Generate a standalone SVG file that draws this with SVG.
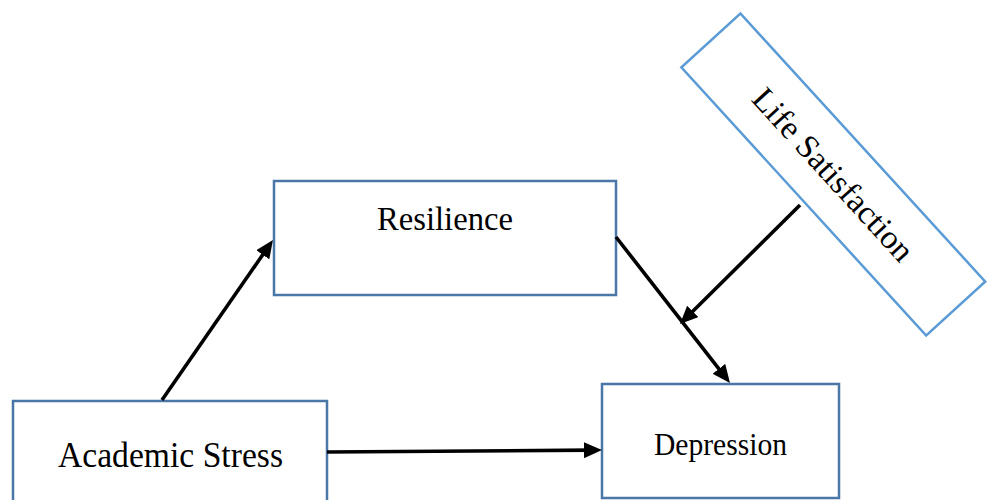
<svg xmlns="http://www.w3.org/2000/svg" width="987" height="500" viewBox="0 0 987 500">
<defs>
<style>
.box{fill:#fff;stroke:#4A76A8;stroke-width:2.5}
.box2{fill:#fff;stroke:#5B9BD5;stroke-width:2.5}
.lbl{font-family:"Liberation Serif","Times New Roman",serif;fill:#000;text-anchor:middle}
.conn{stroke:#000;stroke-width:3.6;fill:none;marker-end:url(#ah)}
</style>
<marker id="ah" markerUnits="userSpaceOnUse" markerWidth="19" markerHeight="17" refX="7" refY="8" orient="auto" viewBox="0 0 19 17">
<path d="M0,0 L18,8 L0,16 z" fill="#000"/>
</marker>
</defs>
<rect width="987" height="500" fill="#fff"/>
<g id="node-resilience">
<rect class="box" x="274" y="181" width="342" height="114"/>
<text class="lbl" x="445" y="230" font-size="33" textLength="136" lengthAdjust="spacingAndGlyphs">Resilience</text>
</g>
<g id="node-academic-stress">
<rect class="box" x="13" y="401" width="314" height="110"/>
<text class="lbl" x="170.5" y="467" font-size="36" textLength="225" lengthAdjust="spacingAndGlyphs">Academic Stress</text>
</g>
<g id="node-depression">
<rect class="box" x="602" y="384" width="237" height="114"/>
<text class="lbl" x="720.5" y="455" font-size="32" textLength="133" lengthAdjust="spacingAndGlyphs">Depression</text>
</g>
<g id="node-life-satisfaction" transform="translate(833.3,174.5) rotate(47.6)">
<rect class="box2" x="-181.5" y="-40" width="363" height="80"/>
<text class="lbl" x="0" y="11" font-size="33" textLength="222" lengthAdjust="spacingAndGlyphs">Life Satisfaction</text>
</g>
<g id="connectors">
<line class="conn" x1="162" y1="400" x2="266.7" y2="249"/>
<line class="conn" x1="616" y1="237" x2="723.2" y2="374.3"/>
<line class="conn" x1="800" y1="205" x2="687.8" y2="316.3"/>
<line class="conn" x1="327" y1="452" x2="591" y2="450.1"/>
</g>
</svg>
